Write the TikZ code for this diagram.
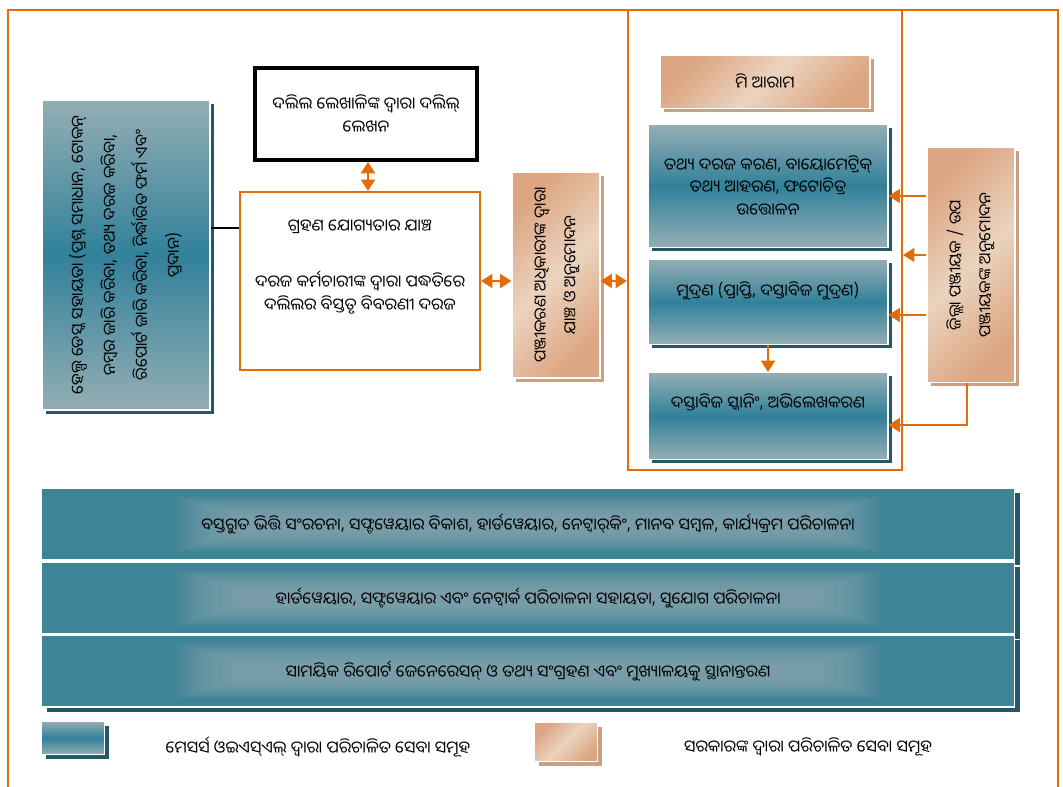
\documentclass[tikz,border=0pt]{standalone}
\usepackage{fontspec}
\setmainfont{Noto Sans Oriya UI}[Script=Oriya]
\usetikzlibrary{arrows.meta,positioning,shadows}
\definecolor{lineorange}{HTML}{E36C0A}
\definecolor{tealdark}{HTML}{31819A}
\definecolor{teallight}{HTML}{94AEB4}
\definecolor{tealshade}{HTML}{245866}
\definecolor{tandark}{HTML}{DCA682}
\definecolor{tanlight}{HTML}{EBD3BF}
\definecolor{tanshade}{HTML}{C9A182}
\definecolor{bandteal}{HTML}{3E8397}
\definecolor{bandglow}{HTML}{8DAAB1}
\newdimen\px \px=0.02cm
\tikzset{
  tealbox/.style={rectangle, draw=white, line width=0.6pt, top color=teallight, bottom color=teallight, middle color=tealdark, general shadow={fill=tealshade, shadow xshift=4\px, shadow yshift=-4\px}, align=center},
  tanbox/.style={rectangle, draw=white, line width=0.6pt, top color=tandark, bottom color=tandark, middle color=tanlight, shading angle=45, general shadow={fill=tanshade, shadow xshift=4\px, shadow yshift=-4\px}, align=center},
  band/.style={rectangle, draw=white, line width=0.8pt, fill=bandteal, general shadow={fill=tealshade, shadow xshift=5\px, shadow yshift=-5\px}},
  glowstep/.style={fill=bandglow, fill opacity=0.1, draw=none},
  orangeline/.style={draw=lineorange, line width=1.2pt},
  oarrow/.style={orangeline, -{Triangle[length=6.5pt,width=8pt]}},
  odarrow/.style={orangeline, {Triangle[length=6.5pt,width=8pt]}-{Triangle[length=6.5pt,width=8pt]}},
}

\begin{document}
\begin{tikzpicture}[x=1\px, y=-1\px, font=\fontsize{9.4}{13}\selectfont]
    \useasboundingbox (0,0) rectangle (1063,787);
    \path [orangeline] (8,787) -- (8,10) -- (1058,10) -- (1058,787);
    \node (reg) at (765,240) [orangeline, minimum width=274\px, minimum height=460\px] {};

    \node (help) at (126,255) [tealbox, minimum width=168\px, minimum height=310\px] {\rotatebox{90}{\renewcommand\arraystretch{1.4}\begin{tabular}{@{}c@{}}ହେଲ୍ପ ଡେସ୍କ ସହାୟତା (ପ୍ରଶ୍ନ ସମାଧାନ, ଟୋକନ୍\\ ନମ୍ବର ଜାରି କରିବା, ତଥ୍ୟ ଦରଜ କରିବା,\\ ରିପୋର୍ଟ ଜାରି କରିବା, ନିର୍ଦ୍ଧାରିତ ଫର୍ମ ଏବଂ\\ ପ୍ରଦାନ)\end{tabular}}};
    \node (writer) at (366,114) [rectangle, draw=black, line width=2.2pt, fill=white, minimum width=222\px, minimum height=92\px, align=center] {ଦଲିଲ ଲେଖାଳିଙ୍କ ଦ୍ୱାରା ଦଲିଲ୍\\ ଲେଖନ};
    \node (check) at (360,281) [rectangle, orangeline, minimum width=240\px, minimum height=178\px, align=center] {\raisebox{10\px}[0pt][0pt]{\begin{tabular}{@{}c@{}}ଗ୍ରହଣ ଯୋଗ୍ୟତାର ଯାଞ୍ଚ\\[18pt] ଦରଜ କର୍ମଚାରୀଙ୍କ ଦ୍ୱାରା ପଦ୍ଧତିରେ\\ ଦଲିଲର ବିସ୍ତୃତ ବିବରଣୀ ଦରଜ\end{tabular}}};
    \node (verify) at (556,275) [tanbox, minimum width=88\px, minimum height=206\px] {\rotatebox{90}{\renewcommand\arraystretch{1.3}\begin{tabular}{@{}c@{}}ପଞ୍ଜୀକରଣ ଅଧିକାରୀଙ୍କ ଦ୍ୱାରା\\ ଯାଞ୍ଚ ଓ ଅନୁମୋଦନ\end{tabular}}};

    \node (rest) at (765,82) [tanbox, minimum width=210\px, minimum height=53\px] {ମି ଆରାମ};
    \node (capture) at (768,186) [tealbox, minimum width=240\px, minimum height=123\px] {ତଥ୍ୟ ଦରଜ କରଣ, ବାୟୋମେଟ୍ରିକ୍\\ ତଥ୍ୟ ଆହରଣ,  ଫଟୋଚିତ୍ର\\ ଉତ୍ତୋଳନ};
    \node (print) at (768,302) [tealbox, minimum width=240\px, minimum height=85\px] {\raisebox{24\px}{ମୁଦ୍ରଣ (ପ୍ରାପ୍ତି, ଦସ୍ତାବିଜ ମୁଦ୍ରଣ)}};
    \node (scan) at (768,416) [tealbox, minimum width=240\px, minimum height=87\px] {\raisebox{28\px}{ଦସ୍ତାବିଜ ସ୍କାନିଂ, ଅଭିଲେଖକରଣ}};
    \node (approve) at (971,265) [tanbox, minimum width=88\px, minimum height=235\px] {\rotatebox{90}{\renewcommand\arraystretch{1.3}\begin{tabular}{@{}c@{}}ଜିଲ୍ଲା ପଞ୍ଜୀୟକ / ଉପ\\ ପଞ୍ଜୀୟକଙ୍କ ଅନୁମୋଦନ\end{tabular}}};

    \path [draw, line width=0.8pt] (help.east |- 0,228) -- (check.west |- 0,228);
    \path [odarrow] (writer.south -| 368,0) -- (check.north -| 368,0);
    \path [odarrow] (check.east) -- (verify.west |- check.east);
    \path [odarrow] (verify.east |- check.east) -- (reg.west |- check.east);
    \path [oarrow] (print.south) -- (scan.north);
    \path [oarrow] (approve.west |- 0,196) -- (capture.east |- 0,196);
    \path [oarrow] (approve.west |- 0,255) -- (reg.east |- 0,255);
    \path [oarrow] (approve.west |- 0,315) -- (print.east |- 0,315);
    \path [oarrow] (approve.south -| 967,0) |- (scan.east |- 0,425);

    \node (infra) at (528,524) [band, minimum width=973\px, minimum height=72\px] {};
    \node (support) at (528,598) [band, minimum width=973\px, minimum height=72\px] {};
    \node (report) at (528,671) [band, minimum width=973\px, minimum height=72\px] {};
    \foreach \band in {infra,support,report}
        \foreach \k in {0,...,13}
            \path [glowstep] ([xshift=-352\px+5*\k\px, yshift=-28\px+1.6*\k\px]\band.center) rectangle ([xshift=352\px-5*\k\px, yshift=28\px-1.6*\k\px]\band.center);
    \node (infratext) at (infra.center) {ବସ୍ତୁଗତ ଭିତ୍ତି ସଂରଚନା, ସଫ୍ଟୱେୟାର  ବିକାଶ, ହାର୍ଡୱେୟାର,  ନେଟ୍ୱାର୍‍କିଂ, ମାନବ ସମ୍ବଳ, କାର୍ଯ୍ୟକ୍ରମ ପରିଚାଳନା};
    \node (supporttext) at (support.center) {ହାର୍ଡୱେୟାର, ସଫ୍ଟୱେୟାର ଏବଂ ନେଟ୍ୱାର୍କ ପରିଚାଳନା ସହାୟତା, ସୁଯୋଗ  ପରିଚାଳନା};
    \node (reporttext) at (report.center) {ସାମୟିକ ରିପୋର୍ଟ ଜେନେରେସନ୍ ଓ ତଥ୍ୟ ସଂଗ୍ରହଣ ଏବଂ ମୁଖ୍ୟାଳୟକୁ ସ୍ଥାନାନ୍ତରଣ};

    \node (keyteal) at (73,738) [tealbox, minimum width=63\px, minimum height=33\px] {};
    \node (keytealtext) at (318,747) {ମେସର୍ସ ଓଇଏସ୍ଏଲ୍ ଦ୍ୱାରା ପରିଚାଳିତ ସେବା ସମୂହ};
    \node (keytan) at (566,742) [tanbox, minimum width=63\px, minimum height=39\px] {};
    \node (keytantext) at (808,747) {ସରକାରଙ୍କ ଦ୍ୱାରା ପରିଚାଳିତ ସେବା ସମୂହ};
\end{tikzpicture}
\end{document}
